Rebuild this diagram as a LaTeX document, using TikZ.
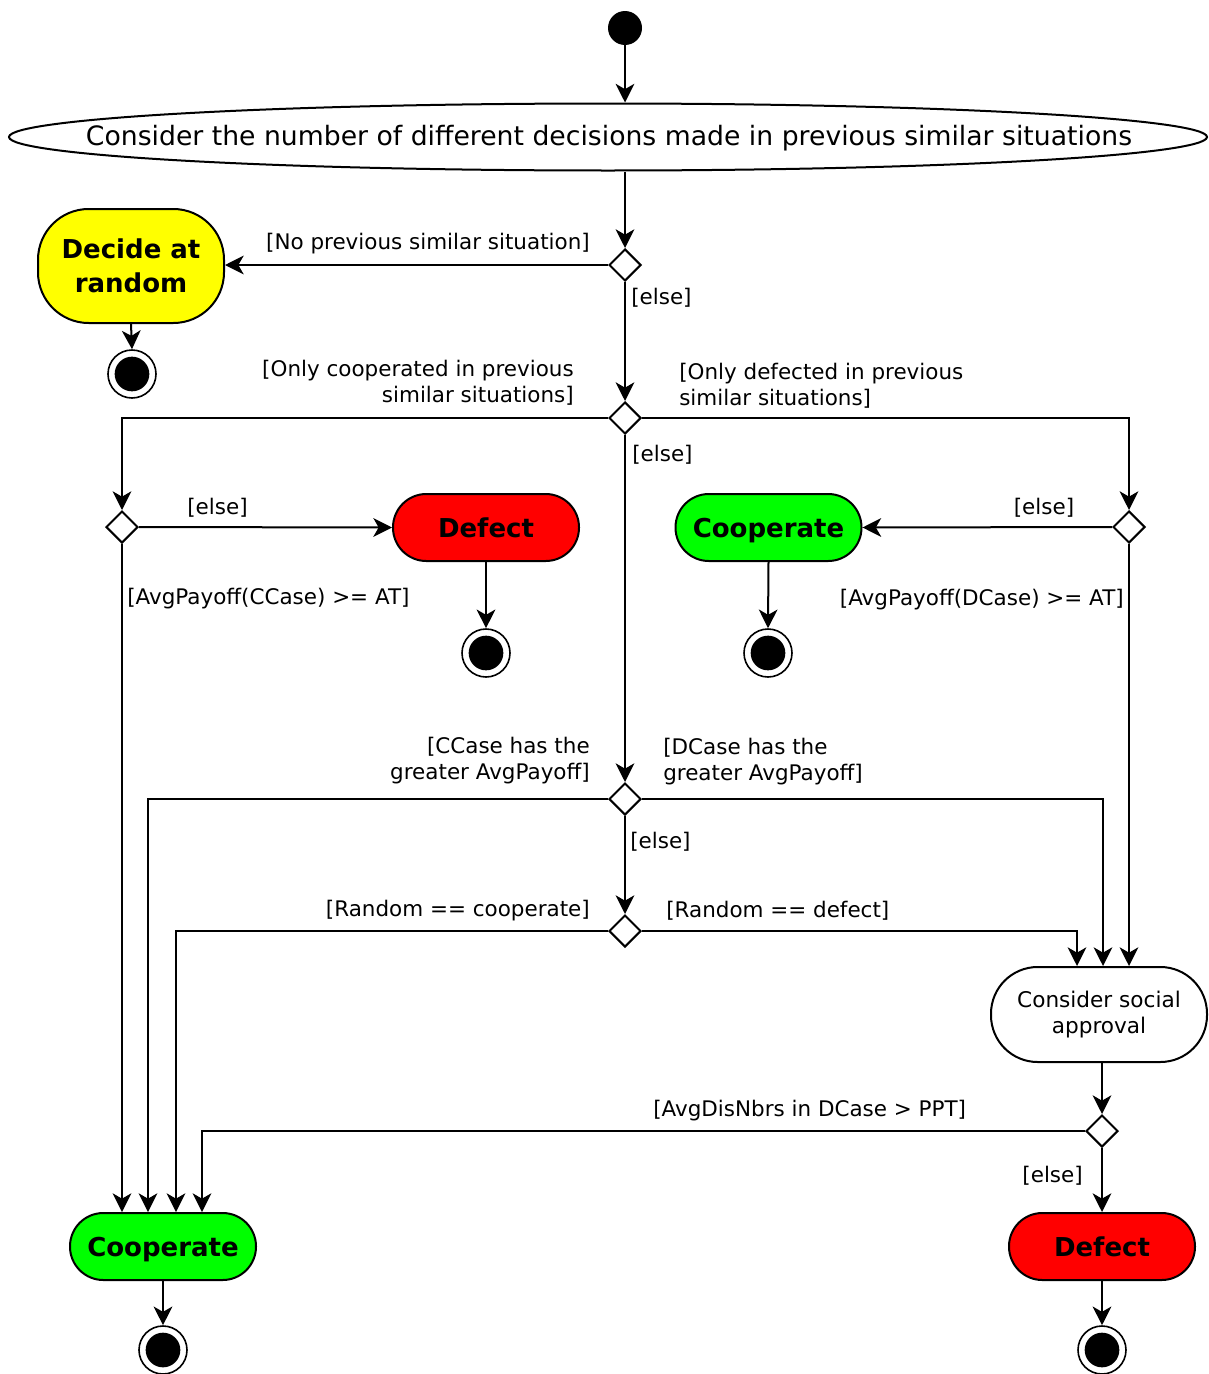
\documentclass[tikz,border=0pt]{standalone}
\usepackage{fontspec}
\setmainfont{DejaVu Sans}
\usetikzlibrary{shapes.geometric,arrows.meta}
\definecolor{cyel}{HTML}{FFFF00}
\definecolor{cred}{HTML}{FF0000}
\definecolor{cgrn}{HTML}{00FF00}
\begin{document}
\begin{tikzpicture}[x=0.75pt,y=-0.75pt,
  lw/.style={line width=1.5pt},
  arr/.style={lw,-{Stealth[length=14pt,width=14pt,inset=4pt]}},
  dia/.style={draw,lw,diamond,minimum width=24pt,minimum height=24pt,inner sep=0pt,fill=white},
  actb/.style={draw,lw,rectangle,inner sep=0pt,align=center,font=\fontsize{19.5}{25.5}\selectfont\bfseries},
  actone/.style={actb,minimum width=139.5pt,minimum height=50.25pt,rounded corners=25pt,text height=17pt,text depth=2pt},
  fin/.style={draw,line width=1.2pt,circle,minimum size=36pt,inner sep=0pt,fill=white,
    path picture={\fill[black] (path picture bounding box.center) circle (13pt);}},
  startn/.style={circle,fill=black,minimum size=25.5pt,inner sep=0pt},
  lab/.style={inner sep=0pt,font=\fontsize{16.1}{19.5}\selectfont},
]
\useasboundingbox (0,0) rectangle (1208,1374);

% nodes
\node[startn] (start) at (625,28) {};
\node[draw,lw,ellipse,minimum width=898.5pt,minimum height=50.25pt,inner sep=0pt] (ell) at (608,137) {};
\node[inner sep=0pt,font=\fontsize{20}{24}\selectfont] (ellt) at (609,138) {Consider the number of different decisions made in previous similar situations};

\node[dia] (d1) at (625,265) {};
\node[actb,fill=cyel,minimum width=139.5pt,minimum height=85.5pt,rounded corners=38pt] (dar) at (131,266) {Decide at\\random};
\node[fin] (f1) at (132,374) {};

\node[dia] (d2) at (625,418) {};
\node[dia] (d3) at (122,527) {};
\node[dia] (d4) at (1129,527) {};
\node[actone,fill=cred] (def1) at (486,527.5) {Defect};
\node[actone,fill=cgrn] (coop1) at (768.5,527.5) {Cooperate};
\node[fin] (f2) at (486,653) {};
\node[fin] (f3) at (768,653) {};

\node[dia] (d5) at (625,799) {};
\node[dia] (d6) at (625,931) {};
\node[draw,lw,rectangle,inner sep=0pt,align=center,minimum width=162pt,minimum height=71.25pt,rounded corners=35pt,font=\fontsize{16.2}{19}\selectfont] (soc) at (1099,1014.5) {Consider social\\approval};
\node[dia] (d7) at (1102,1131) {};

\node[actone,fill=cgrn] (coop2) at (163,1246.5) {Cooperate};
\node[actone,fill=cred] (def2) at (1102,1246.5) {Defect};
\node[fin] (f4) at (163,1350) {};
\node[fin] (f5) at (1102,1350) {};

% labels
\node[lab,anchor=east] (l1) at (590,244) {[No previous similar situation]};
\node[lab,anchor=west] (l2) at (631,298) {[else]};
\node[lab,anchor=east,align=right] (l3) at (574,383) {[Only cooperated in previous\\similar situations]};
\node[lab,anchor=west,align=left] (l4) at (679,386) {[Only defected in previous\\similar situations]};
\node[lab,anchor=west] (l5) at (632,455) {[else]};
\node[lab] (l6) at (217.5,508) {[else]};
\node[lab] (l7) at (1044,508) {[else]};
\node[lab,anchor=west] (l8) at (127,599) {[AvgPayoff(CCase) >= AT]};
\node[lab,anchor=east] (l9) at (1124,600) {[AvgPayoff(DCase) >= AT]};
\node[lab,anchor=east,align=right] (l10) at (590,761) {[CCase has the\\greater AvgPayoff]};
\node[lab,anchor=west,align=left] (l11) at (663,762) {[DCase has the\\greater AvgPayoff]};
\node[lab,anchor=west] (l12) at (630,842) {[else]};
\node[lab,anchor=east] (l13) at (590,911) {[Random == cooperate]};
\node[lab,anchor=west] (l14) at (666,911) {[Random == defect]};
\node[lab,anchor=west] (l15) at (653,1111) {[AvgDisNbrs in DCase > PPT]};
\node[lab,anchor=east] (l16) at (1083,1176) {[else]};

% connectors
\draw[arr] (start.south) -- (ell.north -| start);
\draw[arr] (ell.south -| d1) -- (d1.north);
\draw[arr] (d1.west) -- (d1.west -| dar.east);
\draw[arr] (dar.south) -- (f1.north);
\draw[arr] (d1.south) -- (d2.north);
\draw[arr] (d2.west) -| (d3.north);
\draw[arr] (d2.east) -| (d4.north);
\draw[arr] (d2.south) -- (d5.north);
\draw[arr] (d3.east) -- (def1.west);
\draw[arr] (def1.south) -- (f2.north);
\draw[arr] (d4.west) -- (coop1.east);
\draw[arr] (coop1.south) -- (f3.north);
\draw[arr] (d3.south) -- (d3 |- coop2.north);
\draw[arr] (d4.south) -- (d4 |- soc.north);
\draw[arr] (d5.west) -| ([xshift=-11.25pt]coop2.north);
\draw[arr] (d5.east) -| ([xshift=3pt]soc.north);
\draw[arr] (d5.south) -- (d6.north);
\draw[arr] (d6.west) -| ([xshift=9.75pt]coop2.north);
\draw[arr] (d6.east) -| ([xshift=-16.5pt]soc.north);
\draw[arr] (soc.south -| d7) -- (d7.north);
\draw[arr] (d7.west) -| ([xshift=29.25pt]coop2.north);
\draw[arr] (d7.south) -- (def2.north);
\draw[arr] (coop2.south) -- (f4.north);
\draw[arr] (def2.south) -- (f5.north);
\end{tikzpicture}
\end{document}
